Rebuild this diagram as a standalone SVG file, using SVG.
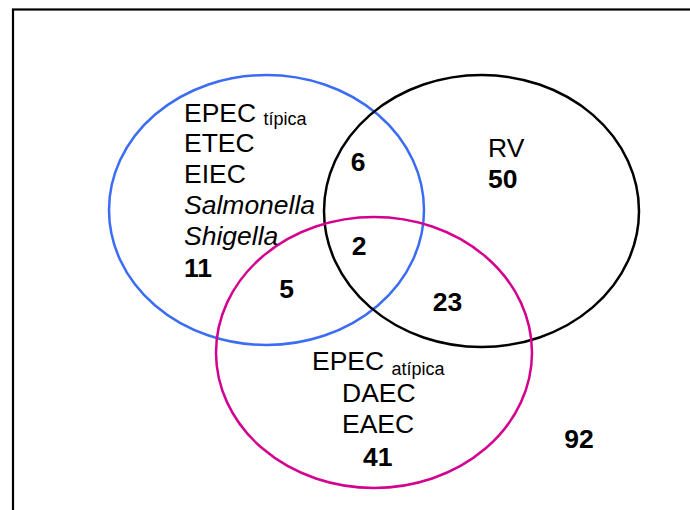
<svg xmlns="http://www.w3.org/2000/svg" width="690" height="510" viewBox="0 0 690 510">
  <style>
    .t { font-family: "Liberation Sans", Arial, sans-serif; font-size: 26.5px; fill: #000; }
    .sub { font-size: 18px; }
    .b { font-weight: bold; }
    .i { font-style: italic; }
    .set { fill: none; stroke-width: 2.5; }
  </style>
  <rect x="0" y="0" width="690" height="510" fill="#fff"/>
  <!-- frame -->
  <rect x="13" y="9.5" width="720" height="540" fill="none" stroke="#000" stroke-width="2.2"/>

  <g id="connectors"></g>

  <!-- set outlines -->
  <g id="set-bacteria">
    <ellipse class="set" cx="266.5" cy="210" rx="157.5" ry="135" stroke="#3a6cf4"/>
  </g>
  <g id="set-rv">
    <ellipse class="set" cx="481.5" cy="211" rx="157.5" ry="136" stroke="#000"/>
  </g>
  <g id="set-epec">
    <ellipse class="set" cx="374" cy="352.5" rx="158" ry="135.5" stroke="#d4008f"/>
  </g>

  <!-- labels -->
  <g id="label-bacteria">
    <text class="t" x="184" y="121.5">EPEC <tspan class="sub" dy="3.5">típica</tspan></text>
    <text class="t" x="184" y="151.5">ETEC</text>
    <text class="t" x="184" y="182.5">EIEC</text>
    <text class="t i" x="184" y="213.5">Salmonella</text>
    <text class="t i" x="184" y="244.5">Shigella</text>
    <text class="t b" x="184" y="276.5">11</text>
  </g>
  <g id="label-rv">
    <text class="t" x="488" y="157">RV</text>
    <text class="t b" x="488" y="188">50</text>
  </g>
  <g id="label-epec">
    <text class="t" x="312" y="370">EPEC <tspan class="sub" dy="5">atípica</tspan></text>
    <text class="t" x="342" y="401.5">DAEC</text>
    <text class="t" x="342" y="433">EAEC</text>
    <text class="t b" x="363" y="466">41</text>
  </g>
  <g id="overlaps">
    <text class="t b" x="358" y="171" text-anchor="middle">6</text>
    <text class="t b" x="359" y="255" text-anchor="middle">2</text>
    <text class="t b" x="286.5" y="298" text-anchor="middle">5</text>
    <text class="t b" x="447.5" y="311" text-anchor="middle">23</text>
  </g>
  <g id="outside">
    <text class="t b" x="579" y="448" text-anchor="middle">92</text>
  </g>
</svg>
